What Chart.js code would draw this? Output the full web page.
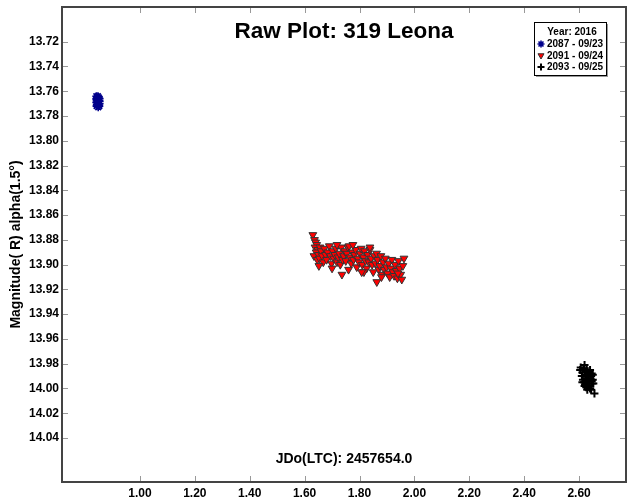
<!DOCTYPE html>
<html>
<head>
<meta charset="utf-8">
<script src="https://cdn.jsdelivr.net/npm/chart.js@4.4.0/dist/chart.umd.min.js"></script>
<style>
  body { margin: 0; background: #fff; }
  #wrap { position: relative; width: 628px; height: 501px; }
</style>
</head>
<body>
<div id="wrap"><canvas id="chart" width="628" height="501"></canvas></div>
<script>
const chartTitle = "Raw Plot: 319 Leona";
const xTitle = "JDo(LTC): 2457654.0";
const yTitle = "Magnitude( R) alpha(1.5°)";
const legendTitle = "Year: 2016";
const seriesNames = ["2087 - 09/23", "2091 - 09/24", "2093 - 09/25"];

const xTicks = [1.0, 1.2, 1.4, 1.6, 1.8, 2.0, 2.2, 2.4, 2.6];
const yTicks = [13.72, 13.74, 13.76, 13.78, 13.80, 13.82, 13.84, 13.86, 13.88,
  13.90, 13.92, 13.94, 13.96, 13.98, 14.00, 14.02, 14.04];

// session 2087 - 09/23
const blueX = [0.841, 0.844, 0.847, 0.850, 0.853, 0.842, 0.845, 0.848, 0.851, 0.841,
  0.846, 0.850, 0.843, 0.853, 0.842, 0.848, 0.845, 0.852, 0.841, 0.853];
const blueY = [13.764, 13.765, 13.764, 13.765, 13.766, 13.767, 13.768, 13.767, 13.768, 13.769,
  13.770, 13.771, 13.771, 13.770, 13.772, 13.773, 13.766, 13.772, 13.766, 13.768];

// session 2091 - 09/24
const redX = [1.630, 1.636, 1.640, 1.644, 1.638, 1.648, 1.642, 1.634, 1.650, 1.656,
  1.660, 1.646, 1.654, 1.664, 1.668, 1.672, 1.676, 1.680, 1.684, 1.690,
  1.694, 1.698, 1.702, 1.706, 1.710, 1.714, 1.718, 1.722, 1.726, 1.730,
  1.734, 1.738, 1.742, 1.746, 1.750, 1.754, 1.758, 1.762, 1.766, 1.770,
  1.774, 1.778, 1.782, 1.786, 1.790, 1.794, 1.798, 1.802, 1.806, 1.810,
  1.814, 1.818, 1.822, 1.826, 1.830, 1.834, 1.838, 1.842, 1.846, 1.850,
  1.854, 1.858, 1.862, 1.866, 1.870, 1.874, 1.878, 1.882, 1.886, 1.890,
  1.894, 1.898, 1.902, 1.906, 1.910, 1.914, 1.918, 1.922, 1.926, 1.930,
  1.934, 1.938, 1.942, 1.946, 1.950, 1.954, 1.958, 1.962, 1.736, 1.816,
  1.863, 1.776, 1.718, 1.838, 1.652, 1.700, 1.760, 1.808, 1.880, 1.940];
const redY = [13.876, 13.880, 13.882, 13.884, 13.886, 13.888, 13.890, 13.893, 13.892, 13.886,
  13.889, 13.896, 13.895, 13.893, 13.898, 13.887, 13.892, 13.896, 13.890, 13.885,
  13.893, 13.899, 13.889, 13.895, 13.892, 13.887, 13.898, 13.894, 13.891, 13.900,
  13.886, 13.896, 13.893, 13.889, 13.897, 13.891, 13.886, 13.885, 13.894, 13.899,
  13.890, 13.896, 13.892, 13.888, 13.902, 13.895, 13.898, 13.891, 13.887, 13.900,
  13.894, 13.889, 13.897, 13.903, 13.892, 13.898, 13.888, 13.895, 13.900, 13.906,
  13.893, 13.899, 13.891, 13.896, 13.904, 13.901, 13.893, 13.908, 13.898, 13.904,
  13.895, 13.902, 13.907, 13.899, 13.910, 13.903, 13.896, 13.906, 13.909, 13.900,
  13.905, 13.911, 13.897, 13.903, 13.908, 13.912, 13.901, 13.895, 13.908, 13.906,
  13.914, 13.884, 13.884, 13.886, 13.901, 13.903, 13.904, 13.906, 13.910, 13.907];

// session 2093 - 09/25
const blackX = [2.606, 2.616, 2.612, 2.624, 2.610, 2.622, 2.632, 2.614, 2.626, 2.636,
  2.618, 2.630, 2.642, 2.622, 2.634, 2.646, 2.626, 2.638, 2.644, 2.648,
  2.630, 2.640, 2.650, 2.636, 2.652, 2.644, 2.656, 2.604, 2.620, 2.628,
  2.640, 2.650, 2.612, 2.632, 2.646, 2.620];
const blackY = [13.983, 13.984, 13.987, 13.986, 13.990, 13.989, 13.988, 13.993, 13.992, 13.990,
  13.995, 13.994, 13.992, 13.997, 13.996, 13.994, 13.999, 13.998, 13.990, 13.996,
  14.001, 14.000, 13.993, 13.998, 13.996, 14.001, 14.004, 13.985, 13.981, 13.985,
  13.985, 13.989, 13.995, 13.986, 13.988, 13.998];

const pts = (xs, ys) => xs.map((x, i) => ({ x: x, y: ys[i] }));
const FONT = "Liberation Sans, Arial, sans-serif";

const frame = {
  id: "frame",
  afterDraw(chart) {
    const ctx = chart.ctx;
    const a = chart.chartArea;
    const xs = chart.scales.x, ys = chart.scales.y;
    ctx.save();
    // inward ticks on all four sides
    ctx.strokeStyle = "#999";
    ctx.lineWidth = 1;
    ctx.beginPath();
    xTicks.forEach(v => {
      const px = Math.round(xs.getPixelForValue(v)) + 0.5;
      ctx.moveTo(px, a.bottom); ctx.lineTo(px, a.bottom - 6);
      ctx.moveTo(px, a.top); ctx.lineTo(px, a.top + 6);
    });
    yTicks.forEach(v => {
      const py = Math.round(ys.getPixelForValue(v)) + 0.5;
      ctx.moveTo(a.left, py); ctx.lineTo(a.left + 6, py);
      ctx.moveTo(a.right, py); ctx.lineTo(a.right - 6, py);
    });
    ctx.stroke();
    // frame
    ctx.strokeStyle = "#444";
    ctx.lineWidth = 2;
    ctx.strokeRect(a.left, a.top, a.right - a.left, a.bottom - a.top);

    const cx = (a.left + a.right) / 2;
    ctx.fillStyle = "#000";
    ctx.textAlign = "center";
    ctx.textBaseline = "middle";
    ctx.font = "bold 22.5px " + FONT;
    ctx.fillText(chartTitle, cx, 32);
    ctx.font = "bold 14px " + FONT;
    ctx.fillText(xTitle, cx, 459);
    ctx.save();
    ctx.translate(16, (a.top + a.bottom) / 2);
    ctx.rotate(-Math.PI / 2);
    ctx.font = "bold 14px " + FONT;
    ctx.fillText(yTitle, 0, 0);
    ctx.restore();

    // legend box
    const lx = 534, ly = 22, lw = 72, lh = 53;
    ctx.fillStyle = "#999";
    ctx.fillRect(lx + 2, ly + 2, lw, lh);
    ctx.fillStyle = "#fff";
    ctx.fillRect(lx, ly, lw, lh);
    ctx.strokeStyle = "#000";
    ctx.lineWidth = 1;
    ctx.strokeRect(lx + 0.5, ly + 0.5, lw, lh);
    ctx.font = "bold 10px " + FONT;
    ctx.fillStyle = "#000";
    ctx.textAlign = "center";
    ctx.fillText(legendTitle, lx + lw / 2 + 2, ly + 10);
    ctx.textAlign = "left";
    chart.data.datasets.forEach((ds, i) => {
      const yy = ly + 22 + i * 11.5;
      ctx.fillStyle = ds.backgroundColor;
      ctx.strokeStyle = ds.borderColor;
      ctx.lineWidth = ds.borderWidth;
      Chart.helpers.drawPoint(ctx, {
        pointStyle: ds.pointStyle, rotation: ds.rotation || 0,
        radius: 3.5, borderWidth: ds.borderWidth
      }, lx + 7, yy);
      ctx.fillStyle = "#000";
      ctx.fillText(seriesNames[i], lx + 13, yy + 0.5);
    });
    ctx.restore();
  }
};

new Chart(document.getElementById("chart"), {
  type: "scatter",
  data: {
    datasets: [
      { label: seriesNames[0], data: pts(blueX, blueY), pointStyle: "star", pointRadius: 4,
        borderColor: "#00008b", backgroundColor: "#00008b", borderWidth: 1.6 },
      { label: seriesNames[1], data: pts(redX, redY), pointStyle: "triangle", rotation: 180,
        pointRadius: 4.5, borderColor: "#333", backgroundColor: "#ff0000", borderWidth: 1 },
      { label: seriesNames[2], data: pts(blackX, blackY), pointStyle: "cross", pointRadius: 4,
        borderColor: "#000", backgroundColor: "#000", borderWidth: 2 }
    ]
  },
  options: {
    responsive: false,
    animation: false,
    layout: { autoPadding: false, padding: { top: 7, right: 2, left: 0, bottom: 0 } },
    plugins: { legend: { display: false }, tooltip: { enabled: false } },
    scales: {
      x: {
        type: "linear", min: 0.716, max: 2.771,
        afterBuildTicks: s => { s.ticks = xTicks.map(v => ({ value: v })); },
        afterFit: s => { s.height = 19; s.paddingLeft = 0; s.paddingRight = 0; },
        grid: { display: false, drawTicks: false },
        border: { display: false },
        ticks: { color: "#000", padding: 4, maxRotation: 0, autoSkip: false,
          font: { family: FONT, size: 12, weight: "bold" },
          callback: v => v.toFixed(2) }
      },
      y: {
        type: "linear", reverse: true, min: 13.692, max: 14.0755,
        afterBuildTicks: s => { s.ticks = yTicks.map(v => ({ value: v })); },
        afterFit: s => { s.width = 62; s.paddingTop = 0; s.paddingBottom = 0; },
        grid: { display: false, drawTicks: false },
        border: { display: false },
        ticks: { color: "#000", padding: 3, autoSkip: false,
          font: { family: FONT, size: 12, weight: "bold" },
          callback: v => v.toFixed(2) }
      }
    }
  },
  plugins: [frame]
});
</script>
</body>
</html>
